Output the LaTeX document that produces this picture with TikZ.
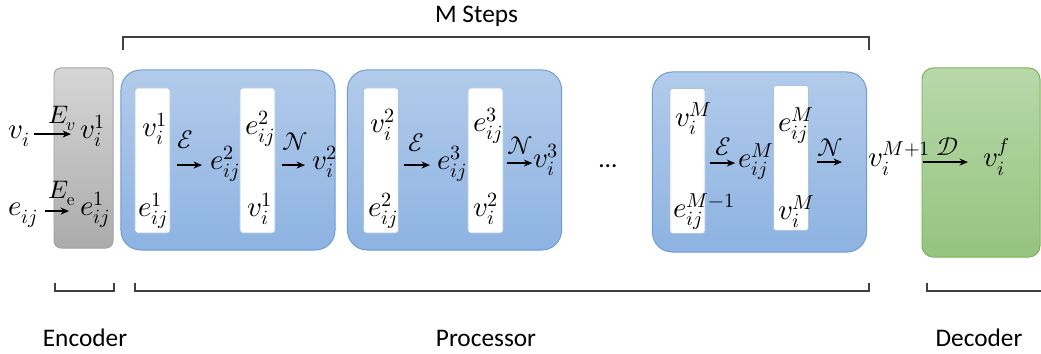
\documentclass[tikz,border=0pt]{standalone}
\usepackage{fontspec}
\usepackage{unicode-math}
\setmathfont{Latin Modern Math}
\newfontfamily\capfont{Carlito}
\usetikzlibrary{arrows.meta}
\definecolor{encTop}{HTML}{D6D6D6}
\definecolor{encBot}{HTML}{ABABAB}
\definecolor{encLine}{HTML}{A3A3A3}
\definecolor{stepTop}{HTML}{B2CBEA}
\definecolor{stepBot}{HTML}{8DB3E2}
\definecolor{stepLine}{HTML}{6E9CD3}
\definecolor{decTop}{HTML}{B8D8AA}
\definecolor{decBot}{HTML}{94C47E}
\definecolor{decLine}{HTML}{7BB159}
\definecolor{brackLine}{HTML}{404040}
\tikzset{
  gnnfig/.style={
    x=0.025cm, y=-0.025cm,
    >={Stealth[length=6pt, width=5pt]},
  },
  encbox/.style={draw=encLine, line width=0.7pt, top color=encTop, bottom color=encBot,
    rounded corners=5pt, minimum width=1.475cm, minimum height=4.5cm},
  stepbox/.style={draw=stepLine, line width=0.7pt, top color=stepTop, bottom color=stepBot,
    rounded corners=14pt, minimum width=5.35cm, minimum height=4.5cm},
  decbox/.style={draw=decLine, line width=0.7pt, top color=decTop, bottom color=decBot,
    rounded corners=8pt, minimum width=2.95cm, minimum height=4.725cm},
  strip/.style={draw=stepLine!60, line width=0.5pt, fill=white, rounded corners=2pt,
    minimum width=0.875cm, minimum height=3.625cm},
  % Formeln: feste Hoehe/Tiefe, damit die Pfeile auf gleicher Hoehe liegen
  mathlbl/.style={inner sep=0pt, text height=12pt, text depth=5pt, anchor=base west,
    font=\fontsize{20.5}{24}\selectfont},
  oplbl/.style={inner sep=0pt, anchor=base west, font=\fontsize{18}{20}\selectfont},
  caption/.style={inner sep=0pt, anchor=base, font=\capfont\fontsize{18}{22}\selectfont},
  flow/.style={draw=black, line width=0.9pt, ->},
  brack/.style={draw=brackLine, line width=0.9pt},
}
\begin{document}
\begin{tikzpicture}[gnnfig]
  \useasboundingbox (0,0) rectangle (1041,354);
  % Bloecke
  \node[encbox] (enc) at (83.5,158) {};
  \node[stepbox] (step1) at (228,160) {};
  \node[stepbox] (step2) at (454.5,160) {};
  \node[stepbox] (step3) at (759.5,162) {};
  \node[decbox] (dec) at (981,162.5) {};
  \node[strip] (s1a) at (152.5,160.5) {};
  \node[strip] (s1b) at (257.5,160.5) {};
  \node[strip] (s2a) at (381,160.5) {};
  \node[strip] (s2b) at (485.5,160.5) {};
  \node[strip] (s3a) at (687.5,161) {};
  \node[strip] (s3b) at (791,158) {};
  % Encoder
  \node[mathlbl] (vi) at (8,139) {$v_i$};
  \node[mathlbl] (vienc) at (80,139) {$v_i^1$};
  \node[oplbl] (Ev) at (48,124) {$E_v$};
  \node[mathlbl] (eij) at (8,216) {$e_{ij}$};
  \node[mathlbl] (eijenc) at (80,216) {$e_{ij}^1$};
  \node[oplbl] (Ee) at (48,199) {$E_{\mathrm{e}}$};
  \draw[flow, shorten <=3pt, shorten >=6.4pt] (vi) -- (vienc);
  \draw[flow, shorten <=4.5pt, shorten >=7.8pt] (eij) -- (eijenc);
  % Schritt 1
  \node[mathlbl] (vOneA) at (142,137) {$v_i^1$};
  \node[mathlbl] (eOneA) at (138,217) {$e_{ij}^1$};
  \node[oplbl] (EdgeOne) at (177,149) {$\mathcal{E}$};
  \node[mathlbl] (eTwo) at (210,170) {$e_{ij}^2$};
  \node[mathlbl] (eTwoB) at (245,135) {$e_{ij}^2$};
  \node[mathlbl] (vOneB) at (247,217) {$v_i^1$};
  \node[oplbl] (NodeOne) at (282,151) {$\mathcal{N}$};
  \node[mathlbl] (vTwo) at (312,170) {$v_i^2$};
  \draw[flow, shorten <=5pt, shorten >=5.7pt] (s1a.east |- eTwo) -- (eTwo);
  \draw[flow, shorten <=5pt, shorten >=5pt] (s1b.east |- vTwo) -- (vTwo);
  % Schritt 2
  \node[mathlbl] (vTwoA) at (370,133) {$v_i^2$};
  \node[mathlbl] (eTwoA) at (368,217) {$e_{ij}^2$};
  \node[oplbl] (EdgeTwo) at (408,152) {$\mathcal{E}$};
  \node[mathlbl] (eThree) at (437,170) {$e_{ij}^3$};
  \node[mathlbl] (eThreeB) at (473,132) {$e_{ij}^3$};
  \node[mathlbl] (vTwoB) at (473,217) {$v_i^2$};
  \node[oplbl] (NodeTwo) at (507,155) {$\mathcal{N}$};
  \node[mathlbl] (vThree) at (533,168) {$v_i^3$};
  \draw[flow, shorten <=4pt, shorten >=5pt] (s2a.east |- eThree) -- (eThree);
  \draw[flow, shorten <=2.8pt, shorten >=0.5pt] (s2b.east |- vThree) -- (vThree);
  \node[caption, anchor=base west] (dots) at (598,168) {...};
  % Schritt M
  \node[mathlbl] (vMA) at (675,127) {$v_i^M$};
  \node[mathlbl] (ePrevA) at (673,218) {$e_{ij}^{M-1}$};
  \node[oplbl] (EdgeM) at (715,156) {$\mathcal{E}$};
  \node[mathlbl] (eM) at (738,168) {$e_{ij}^M$};
  \node[mathlbl] (eMB) at (778,132) {$e_{ij}^M$};
  \node[mathlbl] (vMB) at (778,220) {$v_i^M$};
  \node[oplbl] (NodeM) at (817,157) {$\mathcal{N}$};
  \node[mathlbl] (vNext) at (868,167) {$v_i^{M+1}$};
  \draw[flow, shorten <=3.6pt, shorten >=2pt] (s3a.east |- eM) -- (eM);
  \draw[flow, shorten <=5.7pt, shorten >=18.5pt] (s3b.east |- vNext) -- (vNext);
  % Decoder
  \node[oplbl] (Dec) at (936,156) {$\mathcal{D}$};
  \node[mathlbl] (vfin) at (983,167) {$v_i^f$};
  \draw[flow, shorten <=-6pt, shorten >=10.7pt] (vNext) -- (vfin);
  % Klammern und Beschriftungen
  \draw[brack] (123,50) -- (123,37) -- (869,37) -- (869,50);
  \node[caption] (msteps) at (476.5,23) {M Steps};
  \draw[brack] (55,283) -- (55,291) -- (114,291) -- (114,283);
  \draw[brack] (135,283) -- (135,291) -- (869,291) -- (869,283);
  \draw[brack] (927,283) -- (927,291) -- (1042,291);
  \node[caption] (encname) at (85,346) {Encoder};
  \node[caption] (procname) at (486,346) {Processor};
  \node[caption] (decname) at (979,346) {Decoder};
\end{tikzpicture}
\end{document}
